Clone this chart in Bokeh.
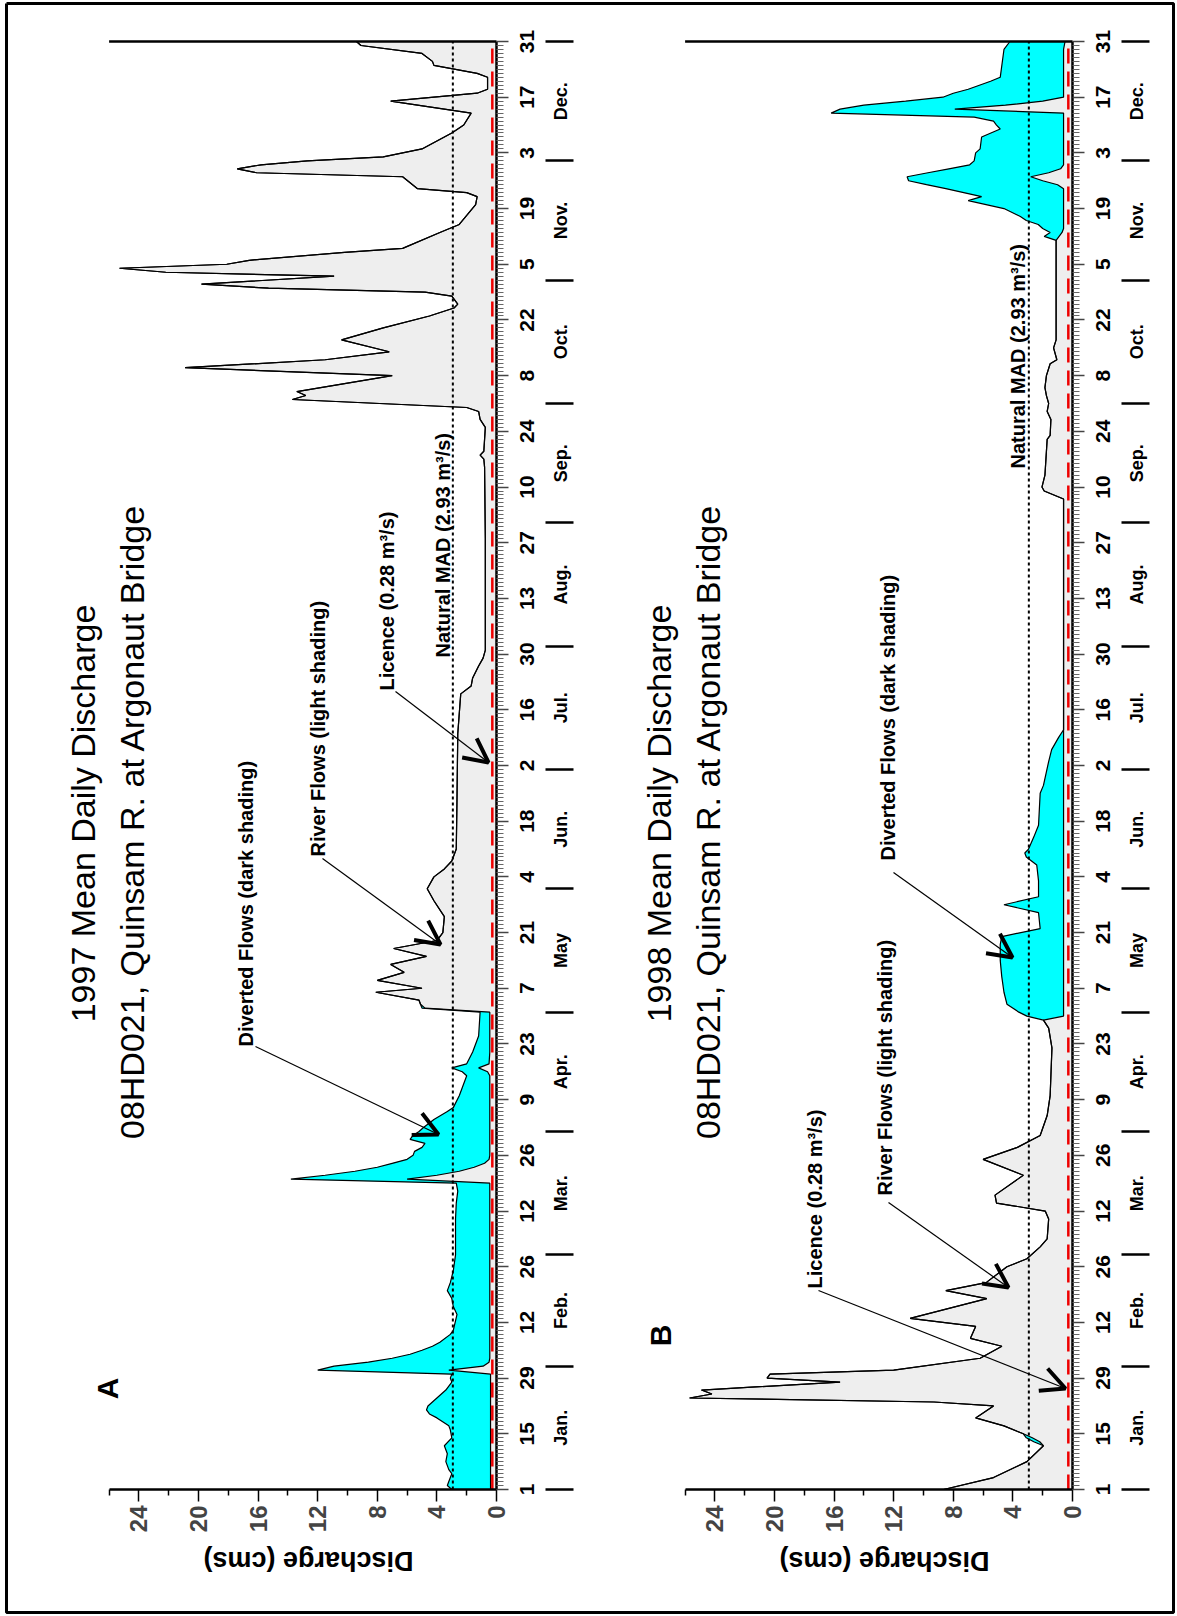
import math
from bokeh.plotting import figure
from bokeh.models import Range1d, LinearAxis, FixedTicker, Arrow, OpenHead, ColumnDataSource
from bokeh.core.properties import value
from bokeh.embed import file_html
from bokeh.resources import INLINE

# ---------------- data ----------------
# 1997 (panel A): day of year, river flow (light shading), river + diverted (top of dark band)
a_day = [1, 2, 3, 5, 6, 8, 10, 12, 14, 16, 17, 19, 20, 21, 22, 24, 26, 28, 29, 30,
         31, 32, 33, 34, 35, 36, 37, 38, 40, 41, 45, 47, 49, 51, 53, 56, 60, 65, 69, 73,
         76, 78, 79, 80, 81, 82, 83, 84, 85, 86, 87, 88, 89, 90, 91, 92, 94, 96, 97, 100,
         102, 105, 106, 107, 108, 111, 115, 121, 122, 123, 124, 126, 127, 129, 131, 133, 135, 137, 139, 141,
         145, 149, 152, 155, 157, 159, 162, 175, 191, 201, 203, 205, 208, 210, 212, 240, 258, 260, 261, 262,
         268, 270, 272, 273, 275, 276, 277, 281, 283, 285, 287, 290, 293, 296, 298, 299, 301, 302, 303, 304,
         306, 307, 308, 309, 310, 312, 313, 317, 319, 324, 326, 327, 328, 331, 332, 333, 334, 335, 336, 338,
         342, 344, 347, 350, 352, 353, 356, 357, 359, 360, 362, 364, 365]
a_river = [0.40, 0.40, 0.40, 0.40, 0.40, 0.40, 0.40, 0.40, 0.40, 0.40, 0.40, 0.40, 0.40, 0.40, 0.40, 0.40, 0.40, 0.40, 0.40, 0.40,
           3.2, 0.90, 0.50, 0.45, 0.45, 0.45, 0.45, 0.45, 0.45, 0.45, 0.45, 0.45, 0.45, 0.45, 0.45, 0.45, 0.45, 0.45, 0.45, 0.45,
           0.45, 0.45, 6.0, 4.0, 2.5, 1.5, 0.80, 0.50, 0.45, 0.45, 0.45, 0.45, 0.45, 0.45, 0.45, 0.45, 0.45, 0.45, 0.45, 0.45,
           0.45, 0.45, 0.60, 1.2, 0.50, 0.45, 0.45, 0.45, 4.8, 5.1, 5.2, 8.1, 5.0, 8.0, 6.2, 7.1, 4.7, 6.9, 4.0, 3.6,
           3.5, 4.2, 4.65, 4.2, 3.5, 3.0, 2.7, 2.65, 2.6, 2.4, 1.7, 1.6, 1.2, 0.9, 0.75, 0.75, 0.8, 0.85, 1.1, 0.85,
           0.75, 1.1, 1.2, 2.0, 13.7, 12.8, 13.4, 7.0, 20.9, 11.5, 7.2, 10.4, 7.6, 4.5, 2.85, 2.6, 3.0, 4.8, 15.3, 19.8,
           10.9, 22.2, 25.3, 18.1, 16.6, 10.2, 6.3, 3.8, 2.5, 1.4, 1.3, 2.0, 5.3, 6.3, 16.1, 17.4, 15.8, 12.7, 7.6, 5.0,
           3.0, 2.2, 1.7, 7.1, 1.3, 0.6, 0.6, 1.3, 4.2, 4.3, 5.0, 9.1, 9.4]
a_total = [3.0, 3.3, 3.2, 3.0, 3.2, 3.4, 3.3, 3.5, 3.0, 3.1, 3.2, 4.0, 4.5, 4.7, 4.6, 4.0, 3.4, 3.0, 3.1, 3.0,
           12.0, 10.9, 8.6, 7.0, 5.8, 5.0, 4.3, 3.8, 3.1, 2.9, 2.65, 2.9, 3.0, 3.3, 3.1, 2.9, 2.75, 2.75, 2.75, 2.7,
           2.6, 2.7, 13.8, 11.5, 9.5, 8.0, 7.0, 6.0, 5.6, 5.5, 5.0, 4.8, 5.8, 5.6, 5.2, 4.9, 4.2, 3.3, 2.9, 2.5,
           2.3, 2.0, 2.3, 3.0, 2.0, 1.6, 1.2, 1.1, 5.0, 5.1, 5.2, 8.1, 5.0, 8.0, 6.2, 7.1, 4.7, 6.9, 4.0, 3.6,
           3.5, 4.2, 4.65, 4.2, 3.5, 3.0, 2.7, 2.65, 2.6, 2.4, 1.7, 1.6, 1.2, 0.9, 0.75, 0.75, 0.8, 0.85, 1.1, 0.85,
           0.75, 1.1, 1.2, 2.0, 13.7, 12.8, 13.4, 7.0, 20.9, 11.5, 7.2, 10.4, 7.6, 4.5, 2.85, 2.6, 3.0, 4.8, 15.3, 19.8,
           10.9, 22.2, 25.3, 18.1, 16.6, 10.2, 6.3, 3.8, 2.5, 1.4, 1.3, 2.0, 5.3, 6.3, 16.1, 17.4, 15.8, 12.7, 7.6, 5.0,
           3.0, 2.2, 1.7, 7.1, 1.3, 0.6, 0.6, 1.3, 4.2, 4.3, 5.0, 9.1, 9.4]

# 1998 (panel B)
b_day = [1, 4, 8, 12, 13, 14, 15, 17, 19, 22, 23, 24, 25, 26, 28, 29, 30, 31, 34, 37,
         39, 42, 44, 49, 51, 53, 57, 59, 62, 64, 69, 71, 73, 75, 80, 84, 87, 90, 95, 100,
         112, 117, 119, 120, 121, 123, 126, 130, 134, 138, 140, 142, 146, 148, 150, 154, 158, 160, 161, 162,
         165, 168, 176, 178, 184, 187, 190, 192, 250, 252, 253, 256, 265, 266, 270, 272, 274, 276, 278, 281,
         284, 285, 288, 290, 300, 315, 316, 317, 318, 319, 320, 321, 323, 325, 326, 327, 328, 329, 330, 331,
         332, 333, 334, 335, 337, 338, 341, 343, 344, 345, 346, 347, 348, 349, 350, 351, 352, 353, 355, 356,
         363, 365]
b_river = [8.65, 5.3, 3.06, 1.95, 2.2, 2.7, 3.3, 4.6, 6.5, 5.3, 9.3, 25.7, 24.2, 24.9, 15.6, 20.5, 20.3, 12.0, 6.2, 4.74,
           6.85, 6.5, 10.9, 5.75, 8.5, 5.8, 4.4, 3.06, 2.17, 1.7, 1.6, 1.83, 5.1, 5.2, 3.3, 6.0, 3.7, 2.17, 1.7, 1.5,
           1.38, 1.6, 1.95, 0.6, 0.6, 0.6, 0.6, 0.6, 0.6, 0.6, 0.6, 0.6, 0.6, 0.6, 0.6, 0.6, 0.6, 0.6, 0.6, 0.6,
           0.6, 0.6, 0.6, 0.6, 0.6, 0.6, 0.6, 0.6, 0.6, 1.9, 2.05, 1.85, 1.7, 1.5, 1.45, 1.7, 1.6, 1.75, 1.85, 1.75,
           1.5, 1.05, 1.27, 1.1, 1.1, 1.1, 0.9, 0.7, 0.6, 0.6, 0.6, 0.6, 0.6, 0.6, 0.6, 0.6, 0.6, 1.0, 2.0, 2.8,
           1.6, 0.8, 0.6, 0.6, 0.6, 0.6, 0.6, 0.6, 0.6, 0.6, 0.6, 0.6, 7.9, 4.5, 2.0, 0.6, 0.6, 0.6, 0.6, 0.6,
           0.6, 0.5]
b_total = [8.65, 5.3, 3.06, 1.95, 2.6, 3.1, 3.3, 4.6, 6.5, 5.3, 9.3, 25.7, 24.2, 24.9, 15.6, 20.5, 20.3, 12.0, 6.2, 4.74,
           6.85, 6.5, 10.9, 5.75, 8.5, 5.8, 4.4, 3.06, 2.17, 1.7, 1.6, 1.83, 5.1, 5.2, 3.3, 6.0, 3.7, 2.17, 1.7, 1.5,
           1.38, 1.6, 1.95, 3.06, 3.6, 4.4, 4.6, 4.75, 4.85, 4.85, 4.75, 2.17, 2.28, 4.6, 2.28, 2.28, 2.4, 3.1, 3.2, 2.95,
           2.6, 2.28, 2.17, 1.95, 1.6, 1.4, 0.94, 0.6, 0.6, 1.9, 2.05, 1.85, 1.7, 1.5, 1.45, 1.7, 1.6, 1.75, 1.85, 1.75,
           1.5, 1.05, 1.27, 1.1, 1.1, 1.1, 1.9, 1.5, 2.0, 2.3, 3.1, 3.5, 4.6, 7.0, 6.1, 7.3, 8.5, 9.8, 11.0, 11.1,
           9.7, 8.3, 6.9, 6.6, 6.5, 6.2, 6.1, 4.85, 5.1, 5.3, 6.6, 16.2, 15.6, 14.0, 11.2, 8.7, 8.0, 7.0, 5.5, 4.85,
           4.6, 4.2]

licence = 0.28
natural_mad = 2.93
day_ticks = [1, 15, 29, 43, 57, 71, 85, 99, 113, 127, 141, 155, 169, 183, 197, 211, 225, 239, 253, 267,
             281, 295, 309, 323, 337, 351, 365]
day_tick_labels = ["1", "15", "29", "12", "26", "12", "26", "9", "23", "7", "21", "4", "18", "2", "16", "30",
                   "13", "27", "10", "24", "8", "22", "5", "19", "3", "17", "31"]
month_names = ["Jan.", "Feb.", "Mar.", "Apr.", "May", "Jun.", "Jul.", "Aug.", "Sep.", "Oct.", "Nov.", "Dec."]
month_edges = [1, 32, 60, 91, 121, 152, 182, 213, 244, 274, 305, 335, 365]
cms_ticks = [0, 4, 8, 12, 16, 20, 24]
cms_minor_ticks = [2, 6, 10, 14, 18, 22, 26]

# ---------------- layout (page pixel coordinates) ----------------
W, H = 1176, 1615
ZERO_A, ZERO_B = 496, 1072         # page x of 0 cms for each panel
PX_CMS = 14.9
DAY1_Y, DAY365_Y = 1489, 41
PX_DAY = (DAY1_Y - DAY365_Y) / 364.0
FONT = value("Liberation Sans")

p = figure(width=W, height=H, x_range=Range1d(0, W), y_range=Range1d(H, 0),
           output_backend="svg", toolbar_location=None, x_axis_location=None, y_axis_location=None,
           min_border=0, outline_line_color=None,
           background_fill_color="white", border_fill_color="white")
p.grid.visible = False


def cms_range(zero):
    return Range1d(start=zero / PX_CMS, end=(zero - W) / PX_CMS)


p.extra_x_ranges = {"A": cms_range(ZERO_A), "B": cms_range(ZERO_B)}
p.extra_y_ranges = {"day": Range1d(start=1 - (H - DAY1_Y) / PX_DAY, end=1 + DAY1_Y / PX_DAY)}

# page frame
p.line(x=[6, 1173, 1173, 6, 6], y=[3, 3, 1612, 1612, 3], line_color="black", line_width=3)

month_mid = [(month_edges[i] + month_edges[i + 1]) / 2.0 for i in range(12)]
minor_days = [d for d in range(1, 366) if d not in day_ticks]


def panel(rng, day, river, total):
    src = ColumnDataSource(dict(day=day, river=river, total=total))
    kw = dict(source=src, x_range_name=rng, y_range_name="day")
    p.harea(x1=0, x2="river", y="day", fill_color="#eeeeee", **kw)
    p.harea(x1="river", x2="total", y="day", fill_color="#00ffff", **kw)
    p.line(x="river", y="day", line_color="black", line_width=1.2, **kw)
    p.line(x="total", y="day", line_color="black", line_width=1.2, **kw)
    rk = dict(x_range_name=rng, y_range_name="day")
    p.line(x=[natural_mad, natural_mad], y=[1, 365], line_dash="3 3", line_width=2, line_color="black", **rk)
    p.line(x=[licence, licence], y=[1, 365], line_dash="15 8", line_width=2.5, line_color="#ee0000", **rk)
    p.line(x=[0, 26], y=[365, 365], line_width=2.5, line_color="black", **rk)

    # day-of-year axis along 0 cms (labels drawn as centred text below)
    ax = LinearAxis(x_range_name=rng, y_range_name="day", fixed_location=0, bounds=(1, 365),
                    ticker=FixedTicker(ticks=day_ticks, minor_ticks=minor_days),
                    major_label_overrides={d: "" for d in day_ticks},
                    axis_line_color="black", axis_line_width=2.5,
                    major_tick_in=0, major_tick_out=12, major_tick_line_color="#444444", major_tick_line_width=1.5,
                    minor_tick_in=0, minor_tick_out=7, minor_tick_line_color="#666666", minor_tick_line_width=1)
    p.add_layout(ax, "right")
    p.text(x=[-30 / PX_CMS] * len(day_ticks), y=day_ticks, text=day_tick_labels, angle=math.pi / 2,
           text_align="center", text_baseline="middle", text_font=FONT, text_font_style="bold",
           text_font_size="21px", text_color="black", **rk)

    # month separators and month names
    mx = LinearAxis(x_range_name=rng, y_range_name="day", fixed_location=-49 / PX_CMS, bounds=(1, 365),
                    ticker=FixedTicker(ticks=[], minor_ticks=month_edges),
                    axis_line_color=None, major_tick_line_color=None, major_tick_in=0, major_tick_out=0,
                    minor_tick_in=0, minor_tick_out=28, minor_tick_line_width=2.5, minor_tick_line_color="black")
    p.add_layout(mx, "right")
    p.text(x=[-64 / PX_CMS] * 12, y=month_mid, text=month_names, angle=math.pi / 2,
           text_align="center", text_baseline="middle", text_font=FONT, text_font_style="bold",
           text_font_size="18px", text_color="black", **rk)

    # discharge axis along day 1
    vx = LinearAxis(x_range_name=rng, y_range_name="day", fixed_location=1, bounds=(0, 26),
                    ticker=FixedTicker(ticks=cms_ticks, minor_ticks=cms_minor_ticks),
                    major_label_orientation=math.pi / 2, major_label_standoff=4,
                    major_label_text_font="Liberation Sans", major_label_text_font_style="bold",
                    major_label_text_font_size="24px",
                    axis_line_color="black", axis_line_width=2.5,
                    major_tick_in=0, major_tick_out=12, major_tick_line_width=1.5,
                    minor_tick_in=0, minor_tick_out=6, minor_tick_line_width=1.5, minor_tick_line_color="black")
    p.add_layout(vx, "below")


panel("A", a_day, a_river, a_total)
panel("B", b_day, b_river, b_total)


def txt(x, y, s, size, bold=True, align="left", angle=math.pi / 2):
    p.text(x=[x], y=[y], text=[s], angle=angle, text_align=align, text_baseline="middle",
           text_font=FONT, text_font_style="bold" if bold else "normal",
           text_font_size=size, text_color="black")


# titles
for dx, year in ((0, "1997"), (ZERO_B - ZERO_A, "1998")):
    txt(82 + dx, 813, year + " Mean Daily Discharge", "34px", bold=False, align="center")
    txt(131 + dx, 821, "08HD021, Quinsam R. at Argonaut Bridge", "34px", bold=False, align="center")
    txt(308 + dx, 1560, "Discharge (cms)", "27px", align="center", angle=math.pi)

txt(107, 1388, "A", "30px", align="center")
txt(660, 1335, "B", "30px", align="center")

# annotations
notes = [
    ("Diverted Flows (dark shading)", 245, 1046, (255, 1046), (438, 1134)),
    ("River Flows (light shading)", 317, 856, (322, 858), (440, 944)),
    ("Licence (0.28 m\u00b3/s)", 386, 690, (395, 691), (488, 762)),
    ("Natural MAD (2.93 m\u00b3/s)", 442, 657, None, None),
    ("Diverted Flows (dark shading)", 887, 860, (893, 872), (1012, 957)),
    ("River Flows (light shading)", 884, 1195, (888, 1202), (1008, 1287)),
    ("Licence (0.28 m\u00b3/s)", 814, 1288, (818, 1290), (1065, 1388)),
    ("Natural MAD (2.93 m\u00b3/s)", 1017, 468, None, None),
]
for s, x, y, a0, a1 in notes:
    txt(x, y, s, "20px")
    if a0 is not None:
        p.add_layout(Arrow(end=OpenHead(size=24, line_width=4, line_color="black"),
                           x_start=a0[0], y_start=a0[1], x_end=a1[0], y_end=a1[1],
                           line_width=1.2, line_color="black"))

open("out.html", "w").write(file_html(p, INLINE))
